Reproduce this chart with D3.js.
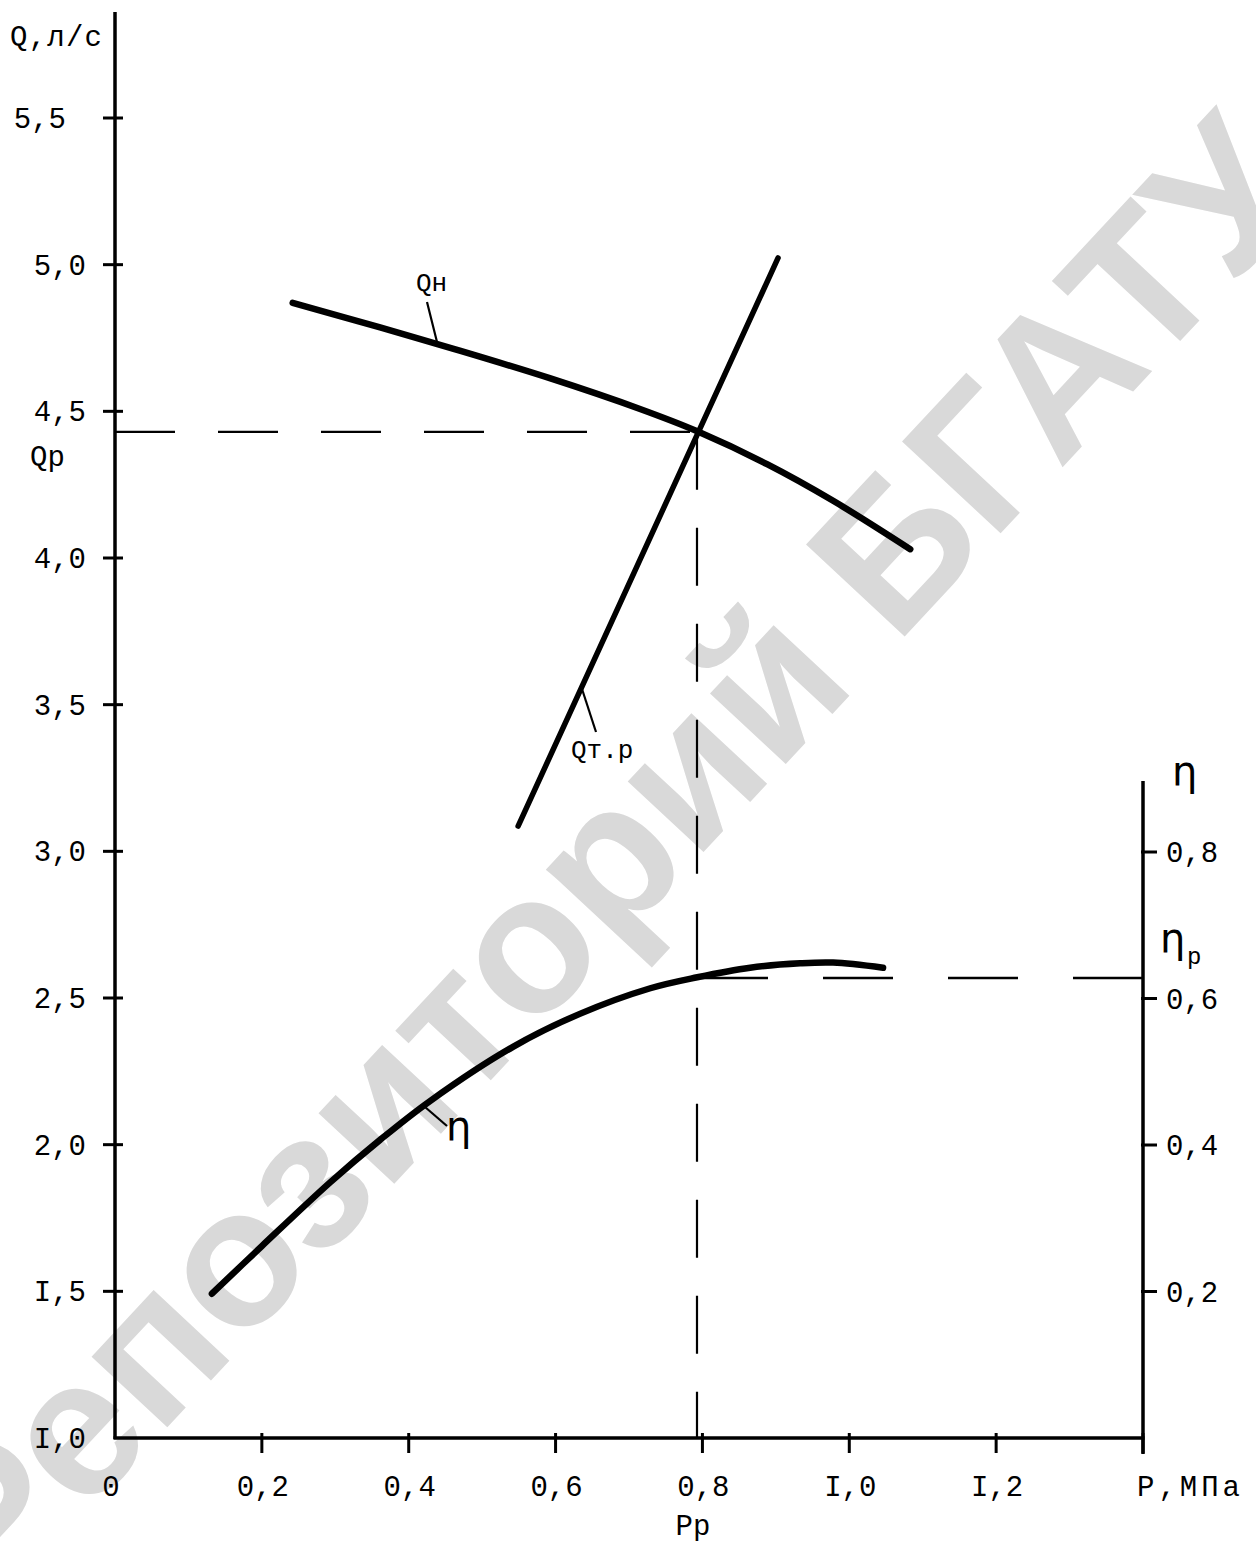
<!DOCTYPE html>
<html><head><meta charset="utf-8">
<script src="https://cdn.jsdelivr.net/npm/d3@7/dist/d3.min.js"></script>
<style>body{margin:0;background:#fff}svg{display:block}</style>
</head><body><svg id="c" width="1256" height="1551"></svg>
<script>
// ---- data ----
const pTicks = [0.2, 0.4, 0.6, 0.8, 1.0, 1.2, 1.4];
const pTickLabels = ["0,2", "0,4", "0,6", "0,8", "I,0", "I,2", ""];
const qTicks = [1.0, 1.5, 2.0, 2.5, 3.0, 3.5, 4.0, 4.5, 5.0, 5.5];
const qTickLabels = ["I,0", "I,5", "2,0", "2,5", "3,0", "3,5", "4,0", "4,5", "5,0", "5,5"];
const etaTicks = [0.2, 0.4, 0.6, 0.8];
const etaTickLabels = ["0,2", "0,4", "0,6", "0,8"];

// pump characteristic Qн(P)
const qnP = [0.242, 0.361, 0.46, 0.592, 0.715, 0.793, 0.888, 0.978, 1.083];
const qnQ = [4.87, 4.786, 4.714, 4.613, 4.508, 4.432, 4.32, 4.195, 4.03];
// required flow Qт.р(P)
const qtrP = [0.549, 0.903];
const qtrQ = [3.086, 5.023];
// efficiency η(P)
const etaP = [0.132, 0.2, 0.293, 0.361, 0.429, 0.542, 0.633, 0.729, 0.793, 0.865, 0.933, 0.978, 1.046];
const etaV = [0.197, 0.262, 0.349, 0.407, 0.460, 0.534, 0.579, 0.614, 0.629, 0.642, 0.648, 0.649, 0.642];
// operating point
const Pp = 0.7926, Qp = 4.43, etaOp = 0.628;

// ---- scales ----
const x = d3.scaleLinear().domain([0, 1.4]).range([115, 1143]);
const yQ = d3.scaleLinear().domain([1.0, 5.5]).range([1438, 118]);
const yE = d3.scaleLinear().domain([0, 0.8]).range([1438, 852]);

const svg = d3.select("#c");
const FONT = "'Liberation Mono', 'DejaVu Sans Mono', monospace";

// watermark
svg.append("text")
  .attr("transform", "translate(618,868) rotate(-47)")
  .attr("text-anchor", "middle").attr("dominant-baseline", "middle")
  .attr("font-family", "'Liberation Sans', Arial, sans-serif")
  .attr("font-weight", "bold").attr("font-size", 196)
  .attr("fill", "#d9d9d9")
  .text("Репозиторий БГАТУ");

const ink = "#000";

// ---- axes ----
svg.append("line").attr("x1", x(0)).attr("x2", x(0)).attr("y1", 12).attr("y2", yQ(1.0) + 1)
  .attr("stroke", ink).attr("stroke-width", 3.5);
svg.append("line").attr("x1", x(0) - 1.5).attr("x2", x(1.4) + 1.5).attr("y1", yQ(1.0)).attr("y2", yQ(1.0))
  .attr("stroke", ink).attr("stroke-width", 3.5);
svg.append("line").attr("x1", x(1.4)).attr("x2", x(1.4)).attr("y1", 781).attr("y2", yQ(1.0) + 16)
  .attr("stroke", ink).attr("stroke-width", 3.5);

// left ticks
svg.append("g").selectAll("line").data(qTicks.filter(d => d > 1.0)).join("line")
  .attr("x1", x(0) - 12).attr("x2", x(0) + 8)
  .attr("y1", d => yQ(d)).attr("y2", d => yQ(d))
  .attr("stroke", ink).attr("stroke-width", 3);
svg.append("g").selectAll("text").data(qTicks).join("text")
  .attr("x", d => d === 5.5 ? 66 : 86)
  .attr("y", d => yQ(d) + 10)
  .attr("text-anchor", "end")
  .attr("font-family", FONT).attr("font-size", 29).attr("fill", ink)
  .text((d, i) => qTickLabels[i]);

// bottom ticks
svg.append("g").selectAll("line").data(pTicks).join("line")
  .attr("x1", d => x(d)).attr("x2", d => x(d))
  .attr("y1", yQ(1.0) - 5).attr("y2", yQ(1.0) + 15)
  .attr("stroke", ink).attr("stroke-width", 3);
svg.append("g").selectAll("text").data(pTicks).join("text")
  .attr("x", d => x(d) + 1)
  .attr("y", 1496)
  .attr("text-anchor", "middle")
  .attr("font-family", FONT).attr("font-size", 29).attr("fill", ink)
  .text((d, i) => pTickLabels[i]);
svg.append("text").attr("x", 111).attr("y", 1496).attr("text-anchor", "middle")
  .attr("font-family", FONT).attr("font-size", 29).attr("fill", ink).text("0");
svg.append("text").attr("x", 1137).attr("y", 1496)
  .attr("font-family", FONT).attr("font-size", 29).attr("fill", ink)
  .attr("textLength", 103).text("P,МПа");
svg.append("text").attr("x", x(Pp) - 4).attr("y", 1535).attr("text-anchor", "middle")
  .attr("font-family", FONT).attr("font-size", 29).attr("fill", ink).text("Pp");

// right ticks
svg.append("g").selectAll("line").data(etaTicks).join("line")
  .attr("x1", x(1.4) - 2).attr("x2", x(1.4) + 14)
  .attr("y1", d => yE(d)).attr("y2", d => yE(d))
  .attr("stroke", ink).attr("stroke-width", 3);
svg.append("g").selectAll("text").data(etaTicks).join("text")
  .attr("x", 1166)
  .attr("y", d => yE(d) + 10)
  .attr("font-family", FONT).attr("font-size", 29).attr("fill", ink)
  .text((d, i) => etaTickLabels[i]);

// axis titles
svg.append("text").attr("x", 10).attr("y", 46)
  .attr("font-family", FONT).attr("font-size", 29).attr("fill", ink)
  .attr("textLength", 92).text("Q,л/с");
svg.append("text").attr("x", 1172).attr("y", 785)
  .attr("font-family", "'DejaVu Sans', sans-serif").attr("font-size", 40).attr("fill", ink).text("η");
svg.append("text").attr("x", 1160).attr("y", 952)
  .attr("font-family", "'DejaVu Sans', sans-serif").attr("font-size", 40).attr("fill", ink).text("η");
svg.append("text").attr("x", 1187).attr("y", 964)
  .attr("font-family", FONT).attr("font-size", 24).attr("fill", ink).text("p");
svg.append("text").attr("x", 30).attr("y", 466)
  .attr("font-family", FONT).attr("font-size", 29).attr("fill", ink).text("Qp");

// ---- dashed reference lines ----
svg.append("line").attr("x1", x(0)).attr("x2", x(Pp)).attr("y1", yQ(Qp)).attr("y2", yQ(Qp))
  .attr("stroke", ink).attr("stroke-width", 2.2).attr("stroke-dasharray", "60,43");
svg.append("line").attr("x1", x(Pp)).attr("x2", x(Pp)).attr("y1", yQ(Qp)).attr("y2", yQ(1.0))
  .attr("stroke", ink).attr("stroke-width", 2.2).attr("stroke-dasharray", "58,38");
svg.append("line").attr("x1", x(1.4)).attr("x2", x(Pp)).attr("y1", yE(etaOp)).attr("y2", yE(etaOp))
  .attr("stroke", ink).attr("stroke-width", 2.4).attr("stroke-dasharray", "70,55");

// ---- curves ----
const lineQ = d3.line().x(d => x(d[0])).y(d => yQ(d[1])).curve(d3.curveCatmullRom.alpha(0.5));
const lineE = d3.line().x(d => x(d[0])).y(d => yE(d[1])).curve(d3.curveCatmullRom.alpha(0.5));

svg.append("path").datum(qnP.map((p, i) => [p, qnQ[i]])).attr("d", lineQ)
  .attr("fill", "none").attr("stroke", ink).attr("stroke-width", 6.5).attr("stroke-linecap", "round");
svg.append("path").datum(qtrP.map((p, i) => [p, qtrQ[i]])).attr("d", lineQ)
  .attr("fill", "none").attr("stroke", ink).attr("stroke-width", 5.5).attr("stroke-linecap", "round");
svg.append("path").datum(etaP.map((p, i) => [p, etaV[i]])).attr("d", lineE)
  .attr("fill", "none").attr("stroke", ink).attr("stroke-width", 6.5).attr("stroke-linecap", "round");

// ---- curve labels with leaders ----
svg.append("line").attr("x1", 427).attr("y1", 302).attr("x2", 437).attr("y2", 342)
  .attr("stroke", ink).attr("stroke-width", 2.2);
svg.append("text").attr("x", 416).attr("y", 291)
  .attr("font-family", FONT).attr("font-size", 26).attr("fill", ink).text("Qн");

svg.append("line").attr("x1", 582).attr("y1", 689).attr("x2", 596).attr("y2", 732)
  .attr("stroke", ink).attr("stroke-width", 2.2);
svg.append("text").attr("x", 571).attr("y", 758)
  .attr("font-family", FONT).attr("font-size", 26).attr("fill", ink).text("Qт.р");

svg.append("line").attr("x1", 425).attr("y1", 1107).attr("x2", 447).attr("y2", 1126)
  .attr("stroke", ink).attr("stroke-width", 2.2);
svg.append("text").attr("x", 446).attr("y", 1140)
  .attr("font-family", "'DejaVu Sans', sans-serif").attr("font-size", 40).attr("fill", ink).text("η");
</script>
</body></html>
